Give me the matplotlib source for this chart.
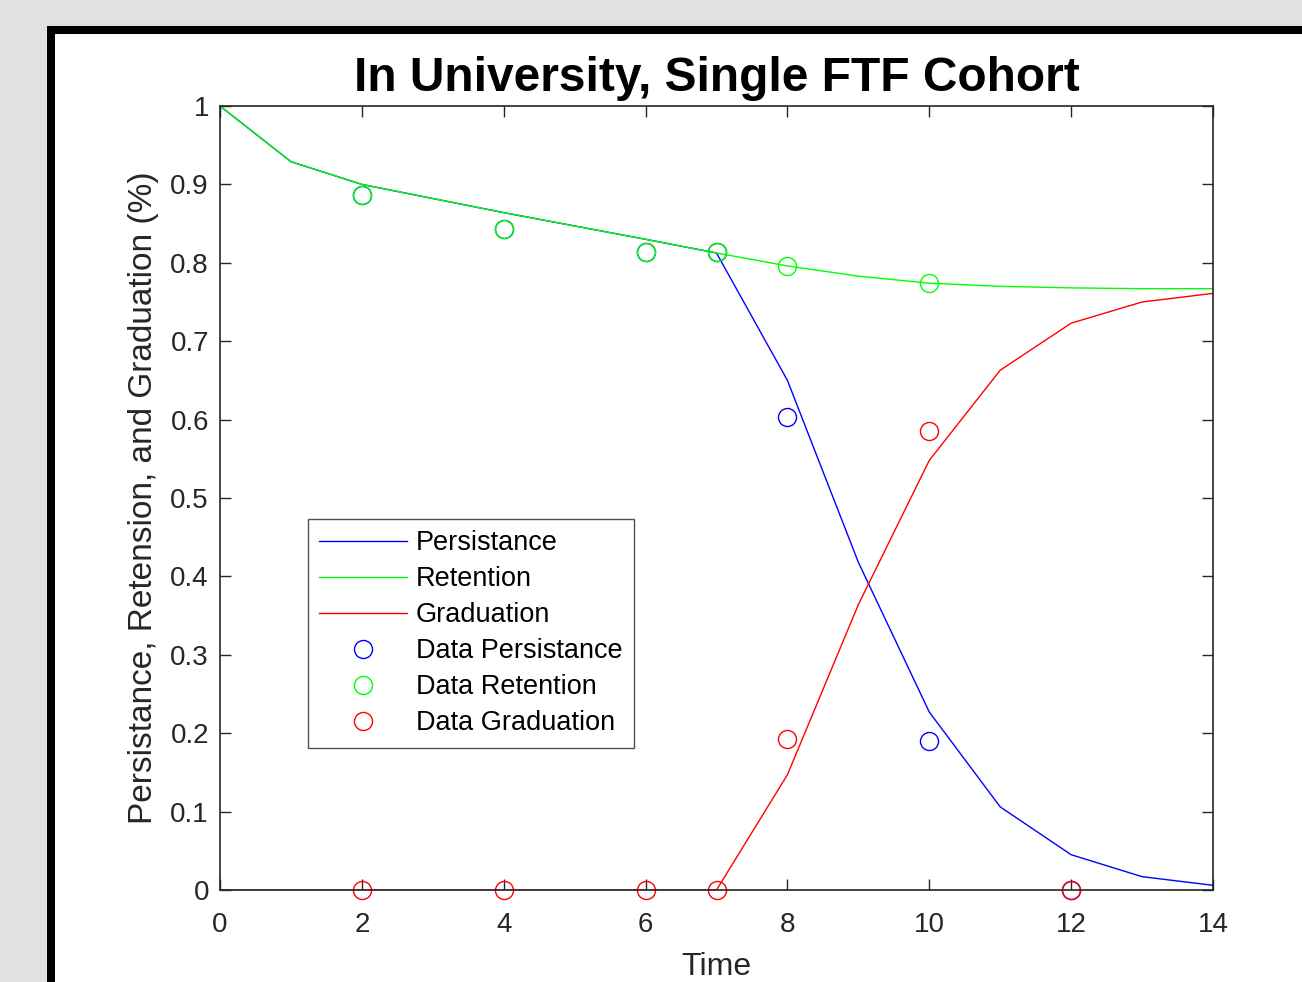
import matplotlib
matplotlib.use("Agg")
import matplotlib.pyplot as plt
from matplotlib import font_manager
from matplotlib.patches import Rectangle

# model curves (yearly steps)
t_model = [0, 1, 2, 3, 4, 5, 6, 7, 8, 9, 10, 11, 12, 13, 14]
persistance = [1.0, 0.929, 0.900, 0.882, 0.864, 0.847, 0.830, 0.8125, 0.650, 0.418, 0.227, 0.106, 0.045, 0.017, 0.006]
retention = [1.0, 0.929, 0.900, 0.882, 0.864, 0.847, 0.830, 0.8125, 0.796, 0.783, 0.774, 0.770, 0.768, 0.767, 0.767]
graduation = [0, 0, 0, 0, 0, 0, 0, 0, 0.147, 0.364, 0.548, 0.663, 0.723, 0.750, 0.761]

# observed data
t_data = [2, 4, 6, 7, 8, 10, 12]
data_persistance = [0.886, 0.843, 0.814, 0.814, 0.603, 0.190, 0.0]
t_data_ret = [2, 4, 6, 7, 8, 10]
data_retention = [0.886, 0.843, 0.814, 0.814, 0.796, 0.774]
data_graduation = [0, 0, 0, 0, 0.193, 0.585, 0.0]

x_ticks = [0, 2, 4, 6, 8, 10, 12, 14]
y_ticks = [0, 0.1, 0.2, 0.3, 0.4, 0.5, 0.6, 0.7, 0.8, 0.9, 1]
y_labels = ["0", "0.1", "0.2", "0.3", "0.4", "0.5", "0.6", "0.7", "0.8", "0.9", "1"]

plt.rcParams['font.family'] = ['Liberation Sans', 'DejaVu Sans']

# the title in the original looks condensed
names = {f.name for f in font_manager.fontManager.ttflist}
if 'Liberation Sans Narrow' in names:
    title_font, title_size = 'Liberation Sans Narrow', 42
else:
    title_font, title_size = 'Liberation Sans', 34.5

W, H = 1302, 982
fig = plt.figure(figsize=(W / 100, H / 100), dpi=100, facecolor='#e1e1e1')

# window frame
fig.add_artist(Rectangle((47 / W, 0), 2, 1 - 26 / H, transform=fig.transFigure,
                         facecolor='black', edgecolor='none', zorder=0))
fig.add_artist(Rectangle((55 / W, 0), 2, 1 - 34 / H, transform=fig.transFigure,
                         facecolor='white', edgecolor='none', zorder=0))

ax = fig.add_axes([220 / W, 1 - 890 / H, (1213 - 220) / W, (890 - 106) / H])
ax.set_facecolor('white')

ax.plot(t_model, persistance, color=(0, 0, 1), lw=1.0, label='Persistance')
ax.plot(t_model, retention, color=(0, 1, 0), lw=1.0, label='Retention')
ax.plot(t_model, graduation, color=(1, 0, 0), lw=1.0, label='Graduation')
ax.plot(t_data, data_persistance, 'o', mfc='none', mec=(0, 0, 1), ms=13, mew=1.0,
        label='Data Persistance', clip_on=False)
ax.plot(t_data_ret, data_retention, 'o', mfc='none', mec=(0, 1, 0), ms=13, mew=1.0,
        label='Data Retention', clip_on=False)
ax.plot(t_data, data_graduation, 'o', mfc='none', mec=(1, 0, 0), ms=13, mew=1.0,
        label='Data Graduation', clip_on=False)

ax.set_xlim(0, 14)
ax.set_ylim(0, 1)
ax.set_xticks(x_ticks)
ax.set_yticks(y_ticks)
ax.set_yticklabels(y_labels)
ax.tick_params(direction='in', length=8, width=1.0, color='#262626',
               labelsize=20, labelcolor='#262626', top=True, right=True)
ax.tick_params(axis='x', pad=16)
ax.tick_params(axis='y', pad=8)
for s in ax.spines.values():
    s.set_color('#262626')
    s.set_linewidth(1.2)

ax.set_title('In University, Single FTF Cohort', fontsize=title_size, fontweight='bold',
             family=[title_font, 'DejaVu Sans'], pad=11)
ax.set_xlabel('Time', fontsize=23, color='#262626', labelpad=10)
ax.set_ylabel('Persistance, Retension, and Graduation (%)', fontsize=24,
              color='#262626', labelpad=8)

leg = ax.legend(loc='upper left', bbox_to_anchor=((308 - 220) / 993, (890 - 519) / 784),
                fontsize=19.5, frameon=True, fancybox=False, edgecolor='#262626',
                handlelength=3.25, handletextpad=0.3, labelspacing=0.37,
                borderpad=0.42, borderaxespad=0)
leg.get_frame().set_linewidth(1.0)

fig.savefig('out.png', dpi=100, facecolor=fig.get_facecolor())
